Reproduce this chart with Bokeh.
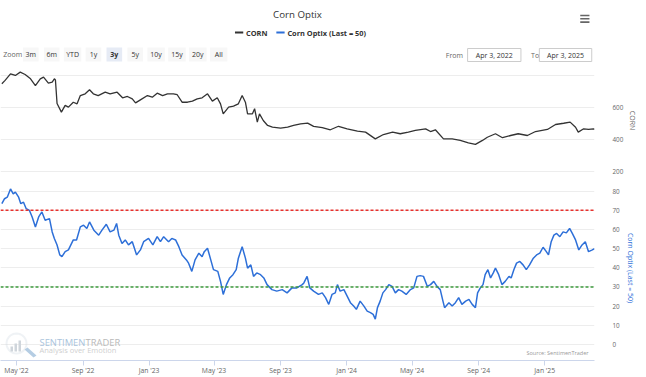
import math
import pandas as pd
from bokeh.plotting import figure
from bokeh.layouts import column
from bokeh.models import (Range1d, ColumnDataSource, FixedTicker, DatetimeTickFormatter,
                          Span, Label, PolyAnnotation, BoxAnnotation)
from bokeh.core.properties import value
from bokeh.embed import file_html
from bokeh.resources import INLINE

# ---------------- data ----------------
TITLE = "Corn Optix"
CORN_NAME = "CORN"
OPTIX_NAME = "Corn Optix (Last = 50)"

CORN_DATES = [
    "2022-04-04", "2022-04-10", "2022-04-20", "2022-04-29", "2022-05-08", "2022-05-17", "2022-05-27",
    "2022-06-05", "2022-06-14", "2022-06-20", "2022-06-29", "2022-07-06", "2022-07-10", "2022-07-12",
    "2022-07-15", "2022-07-23", "2022-07-30", "2022-08-05", "2022-08-14", "2022-08-21", "2022-08-27",
    "2022-09-05", "2022-09-13", "2022-09-20", "2022-09-29", "2022-10-12", "2022-10-21", "2022-11-03",
    "2022-11-13", "2022-11-22", "2022-12-01", "2022-12-07", "2022-12-16", "2022-12-29", "2023-01-07",
    "2023-01-16", "2023-01-26", "2023-02-04", "2023-02-15", "2023-02-22", "2023-03-03", "2023-03-13",
    "2023-03-22", "2023-03-31", "2023-04-09", "2023-04-19", "2023-04-28", "2023-05-07", "2023-05-13",
    "2023-05-18", "2023-05-28", "2023-06-06", "2023-06-15", "2023-06-22", "2023-06-28", "2023-07-02",
    "2023-07-11", "2023-07-15", "2023-07-20", "2023-07-24", "2023-07-31", "2023-08-08", "2023-08-17",
    "2023-09-01", "2023-09-14", "2023-09-25", "2023-10-08", "2023-10-21", "2023-11-01", "2023-11-17",
    "2023-12-02", "2023-12-17", "2024-01-02", "2024-01-21", "2024-02-05", "2024-02-23", "2024-03-09",
    "2024-03-26", "2024-04-09", "2024-04-24", "2024-05-07", "2024-05-26", "2024-06-04", "2024-06-13",
    "2024-06-28", "2024-07-14", "2024-07-29", "2024-08-13", "2024-08-26", "2024-09-08", "2024-09-17",
    "2024-10-02", "2024-10-15", "2024-10-30", "2024-11-13", "2024-11-30", "2024-12-15", "2025-01-06",
    "2025-01-21", "2025-02-05", "2025-02-17", "2025-02-27", "2025-03-04", "2025-03-14", "2025-03-23",
    "2025-04-01", "2025-04-03",
]
CORN_VALUES = [
    748, 769, 810, 800, 821, 806, 779,
    737, 779, 790, 752, 758, 779, 772,
    624, 570, 612, 601, 632, 622, 674,
    685, 710, 685, 674, 695, 685, 695,
    660, 668, 653, 628, 647, 674, 664,
    689, 674, 685, 685, 679, 632, 632,
    639, 653, 660, 685, 639, 660, 622,
    559, 601, 607, 622, 674, 632, 559,
    559, 591, 507, 559, 517, 486, 475,
    469, 475, 486, 496, 501, 480, 472,
    459, 481, 465, 450, 444, 402, 429,
    444, 434, 444, 455, 465, 448, 459,
    402, 402, 392, 377, 367, 392, 412,
    434, 409, 423, 434, 423, 448, 461,
    492, 500, 507, 475, 444, 465, 461,
    465, 462,
]

OPTIX_DATES = [
    "2022-04-04", "2022-04-09", "2022-04-14", "2022-04-20", "2022-04-25", "2022-04-29", "2022-05-05",
    "2022-05-09", "2022-05-14", "2022-05-19", "2022-05-25", "2022-05-30", "2022-06-05", "2022-06-11",
    "2022-06-17", "2022-06-23", "2022-07-01", "2022-07-06", "2022-07-10", "2022-07-15", "2022-07-20",
    "2022-07-24", "2022-07-30", "2022-08-05", "2022-08-14", "2022-08-20", "2022-08-27", "2022-09-02",
    "2022-09-08", "2022-09-13", "2022-09-21", "2022-09-30", "2022-10-06", "2022-10-14", "2022-10-21",
    "2022-10-28", "2022-11-02", "2022-11-06", "2022-11-12", "2022-11-18", "2022-11-24", "2022-12-01",
    "2022-12-09", "2022-12-16", "2022-12-22", "2022-12-31", "2023-01-08", "2023-01-16", "2023-01-22",
    "2023-01-28", "2023-02-06", "2023-02-12", "2023-02-19", "2023-02-25", "2023-03-03", "2023-03-11",
    "2023-03-15", "2023-03-21", "2023-03-27", "2023-04-03", "2023-04-09", "2023-04-13", "2023-04-19",
    "2023-04-25", "2023-04-30", "2023-05-08", "2023-05-13", "2023-05-18", "2023-05-24", "2023-05-30",
    "2023-06-05", "2023-06-11", "2023-06-15", "2023-06-22", "2023-06-28", "2023-07-02", "2023-07-08",
    "2023-07-13", "2023-07-19", "2023-07-26", "2023-08-01", "2023-08-07", "2023-08-16", "2023-08-25",
    "2023-09-04", "2023-09-13", "2023-09-22", "2023-10-01", "2023-10-11", "2023-10-14", "2023-10-20",
    "2023-10-25", "2023-11-01", "2023-11-10", "2023-11-17", "2023-11-23", "2023-11-29", "2023-12-05",
    "2023-12-11", "2023-12-15", "2023-12-20", "2023-12-27", "2024-01-02", "2024-01-08", "2024-01-14",
    "2024-01-19", "2024-01-26", "2024-02-02", "2024-02-08", "2024-02-14", "2024-02-19", "2024-02-23",
    "2024-02-27", "2024-03-03", "2024-03-08", "2024-03-13", "2024-03-19", "2024-03-25", "2024-03-31",
    "2024-04-06", "2024-04-12", "2024-04-20", "2024-04-28", "2024-05-04", "2024-05-10", "2024-05-16",
    "2024-05-22", "2024-05-29", "2024-06-04", "2024-06-10", "2024-06-16", "2024-06-22", "2024-06-27",
    "2024-06-30", "2024-07-08", "2024-07-14", "2024-07-20", "2024-07-26", "2024-08-01", "2024-08-08",
    "2024-08-14", "2024-08-20", "2024-08-26", "2024-08-30", "2024-09-04", "2024-09-09", "2024-09-13",
    "2024-09-18", "2024-09-23", "2024-09-28", "2024-10-02", "2024-10-08", "2024-10-14", "2024-10-20",
    "2024-10-27", "2024-10-31", "2024-11-05", "2024-11-10", "2024-11-16", "2024-11-22", "2024-11-28",
    "2024-12-04", "2024-12-11", "2024-12-17", "2024-12-23", "2024-12-29", "2025-01-04", "2025-01-08",
    "2025-01-13", "2025-01-18", "2025-01-23", "2025-01-29", "2025-02-04", "2025-02-10", "2025-02-16",
    "2025-02-21", "2025-02-27", "2025-03-05", "2025-03-11", "2025-03-17", "2025-03-23", "2025-03-30",
    "2025-04-03",
]
OPTIX_VALUES = [
    73.4, 76.0, 76.8, 81.1, 78.5, 79.4, 76.8,
    73.4, 74.2, 70.8, 69.9, 66.5, 61.3, 66.5,
    69.1, 64.8, 65.6, 58.7, 55.3, 51.9, 46.7,
    45.8, 48.4, 49.3, 54.5, 54.5, 61.3, 62.2,
    60.5, 63.9, 59.6, 57.0, 59.6, 62.7, 58.7,
    59.6, 63.1, 57.0, 52.7, 54.5, 51.9, 53.6,
    46.7, 49.3, 53.6, 55.3, 51.9, 56.2, 53.6,
    56.2, 53.6, 55.3, 54.5, 51.0, 46.7, 44.1,
    42.4, 38.1, 44.1, 47.6, 45.8, 48.4, 50.2,
    44.1, 39.0, 38.1, 32.9, 26.1, 31.2, 34.7,
    36.4, 39.0, 45.0, 51.0, 45.0, 39.8, 41.5,
    35.5, 37.3, 36.4, 34.7, 31.2, 28.6, 27.8,
    28.6, 26.9, 29.5, 29.5, 31.2, 32.1, 35.5,
    29.5, 27.8, 26.1, 26.9, 24.4, 20.9, 26.1,
    26.9, 31.2, 27.8, 28.6, 25.2, 21.8, 20.0,
    18.3, 22.6, 20.0, 17.4, 16.6, 15.7, 13.2,
    19.2, 22.6, 26.9, 28.6, 31.2, 30.3, 26.9,
    28.6, 27.8, 26.1, 28.6, 29.5, 35.5, 35.9,
    35.5, 30.3, 31.2, 32.9, 30.3, 28.6, 22.6,
    19.2, 21.8, 20.0, 21.8, 24.4, 20.9, 22.6,
    23.5, 20.9, 19.2, 26.9, 29.5, 31.2, 36.4,
    39.0, 34.7, 37.3, 39.8, 36.4, 31.2, 32.9,
    35.5, 34.7, 39.0, 42.4, 43.3, 41.5, 39.0,
    41.5, 45.0, 46.7, 47.6, 50.7, 48.4, 46.7,
    53.6, 57.0, 57.9, 56.2, 58.7, 58.2, 60.5,
    57.9, 54.5, 49.3, 51.9, 53.6, 48.4, 49.3,
    50.0,
]

UPPER_BAND = 70
LOWER_BAND = 30
CORN_TICKS = [200, 400, 600]
CORN_GRID = [200, 400, 600, 800]
OPTIX_TICKS = [0, 10, 20, 30, 40, 50, 60, 70, 80]
X_TICKS = ["2022-05-01", "2022-09-01", "2023-01-01", "2023-05-01", "2023-09-01",
           "2024-01-01", "2024-05-01", "2024-09-01", "2025-01-01"]
X_START = "2022-04-01 12:00"
X_END = "2025-04-03"
ZOOM_BUTTONS = ["3m", "6m", "YTD", "1y", "3y", "5y", "10y", "15y", "20y", "All"]
SELECTED_BUTTON = "3y"
RANGE_FROM = "Apr 3, 2022"
RANGE_TO = "Apr 3, 2025"
SOURCE_NOTE = "Source: SentimenTrader"

# ---------------- style ----------------
FONT = "Open Sans"
W = 646
RIGHT = 52
CORN_COLOR = "#333333"
OPTIX_COLOR = "#2d6fd8"
GRID_COLOR = "#ededed"
AXIS_COLOR = "#ccd6eb"
LABEL_COLOR = "#666666"

# ---------------- header ----------------
hdr = figure(width=W, height=65, x_range=Range1d(0, W), y_range=Range1d(65, 0),
             x_axis_location=None, y_axis_location=None, toolbar_location=None,
             output_backend="svg", min_border=0, outline_line_color=None)
hdr.grid.visible = False

hdr.text(x=[W / 2], y=[14], text=[TITLE], text_align="center", text_baseline="middle",
         text_font=value(FONT), text_font_size="9.7px", text_color="#333333")

hdr.segment(x0=[255, 300], y0=[32, 32], x1=[264, 309], y1=[32, 32],
            line_color=[CORN_COLOR, OPTIX_COLOR], line_width=2)
hdr.text(x=[267, 312], y=[32, 32], text=[CORN_NAME, OPTIX_NAME], text_align="left",
         text_baseline="middle", text_font=value(FONT), text_font_size="7.4px",
         text_font_style="bold", text_color="#333333")

hdr.text(x=[3], y=[54], text=["Zoom"], text_align="left", text_baseline="middle",
         text_font=value(FONT), text_font_size="7px", text_color=LABEL_COLOR)
bx = [33 + i * 22.7 for i in range(len(ZOOM_BUTTONS))]
bw = [17 if len(b) < 3 else 19 for b in ZOOM_BUTTONS]
bfill = ["#e6ebf5" if b == SELECTED_BUTTON else "#f7f7f7" for b in ZOOM_BUTTONS]
bstyle = ["bold" if b == SELECTED_BUTTON else "normal" for b in ZOOM_BUTTONS]
hdr.rect(x=bx, y=[54] * len(bx), width=bw, height=14, fill_color=bfill, line_color=None)
hdr.text(x=bx, y=[54] * len(bx), text=ZOOM_BUTTONS, text_align="center", text_baseline="middle",
         text_font=value(FONT), text_font_size="7px", text_font_style=bstyle, text_color="#333333")

hdr.text(x=[503, 577], y=[54.5, 54.5], text=["From", "To"], text_align=["right", "left"],
         text_baseline="middle", text_font=value(FONT), text_font_size="7px", text_color=LABEL_COLOR)
hdr.rect(x=[537, 614.5], y=[54.5, 54.5], width=[58, 57], height=13, fill_color="white",
         line_color="#cccccc", line_width=1)
hdr.text(x=[537, 614.5], y=[54.5, 54.5], text=[RANGE_FROM, RANGE_TO], text_align="center",
         text_baseline="middle", text_font=value(FONT), text_font_size="7px", text_color="#333333")

hdr.segment(x0=[630.5] * 3, x1=[640.5] * 3, y0=[15, 18.3, 21.6], y1=[15, 18.3, 21.6],
            line_color=LABEL_COLOR, line_width=1.6)

# ---------------- shared x ----------------
xr = Range1d(start=pd.Timestamp(X_START), end=pd.Timestamp(X_END))

corn_src = ColumnDataSource(dict(x=pd.to_datetime(CORN_DATES), y=CORN_VALUES))
optix_src = ColumnDataSource(dict(x=pd.to_datetime(OPTIX_DATES), y=OPTIX_VALUES))

# ---------------- top pane (CORN) ----------------
CORN_PX = 0.1592          # pixels per CORN unit
TOP_H = 110
corn_lo = 200 - 4.5 / CORN_PX
top = figure(width=W, height=TOP_H, x_range=xr,
             y_range=Range1d(corn_lo, corn_lo + TOP_H / CORN_PX),
             x_axis_type="datetime", x_axis_location=None, y_axis_location="right",
             toolbar_location=None, output_backend="svg",
             min_border_left=0, min_border_right=RIGHT, min_border_top=0, min_border_bottom=0,
             outline_line_color=None)
top.xgrid.visible = False
top.ygrid.ticker = FixedTicker(ticks=CORN_GRID)
top.ygrid.grid_line_color = GRID_COLOR
ya = top.yaxis[0]
ya.ticker = FixedTicker(ticks=CORN_TICKS)
ya.axis_line_color = None
ya.major_tick_line_color = None
ya.minor_tick_line_color = None
ya.major_label_standoff = 12
ya.major_label_text_font = FONT
ya.major_label_text_font_size = "6.3px"
ya.major_label_text_color = LABEL_COLOR
ya.major_label_text_baseline = "bottom"
ya.axis_label = CORN_NAME
ya.axis_label_text_font = FONT
ya.axis_label_text_font_size = "7px"
ya.axis_label_text_font_style = "normal"
ya.axis_label_text_color = LABEL_COLOR
ya.axis_label_standoff = 2
top.line("x", "y", source=corn_src, line_color=CORN_COLOR, line_width=1.3)

# ---------------- bottom pane (Optix) ----------------
BOT_H = 377 - 65 - TOP_H
OPTIX_PX = 1.935
bot = figure(width=W, height=BOT_H, x_range=xr,
             y_range=Range1d(-16.2 / OPTIX_PX, 80 + 15.7 / OPTIX_PX),
             x_axis_type="datetime", y_axis_location="right",
             toolbar_location=None, output_backend="svg",
             min_border_left=0, min_border_right=RIGHT, min_border_top=0, min_border_bottom=15,
             outline_line_color=None)
bot.xgrid.visible = False
bot.ygrid.ticker = FixedTicker(ticks=OPTIX_TICKS)
bot.ygrid.grid_line_color = GRID_COLOR

yb = bot.yaxis[0]
yb.ticker = FixedTicker(ticks=OPTIX_TICKS)
yb.axis_line_color = None
yb.major_tick_line_color = None
yb.minor_tick_line_color = None
yb.major_label_standoff = 12
yb.major_label_text_font = FONT
yb.major_label_text_font_size = "6.3px"
yb.major_label_text_color = LABEL_COLOR
yb.major_label_text_baseline = "bottom"
yb.axis_label = OPTIX_NAME
yb.axis_label_text_font = FONT
yb.axis_label_text_font_size = "7px"
yb.axis_label_text_font_style = "normal"
yb.axis_label_text_color = OPTIX_COLOR
yb.axis_label_standoff = 3

xa = bot.xaxis[0]
xa.ticker = FixedTicker(ticks=[pd.Timestamp(t).value / 1e6 for t in X_TICKS])
xa.formatter = DatetimeTickFormatter(months="%b '%y", days="%b '%y", years="%b '%y")
xa.axis_line_color = AXIS_COLOR
xa.major_tick_line_color = AXIS_COLOR
xa.minor_tick_line_color = None
xa.major_tick_in = 0
xa.major_tick_out = 5
xa.major_label_standoff = 0
xa.major_label_text_font = FONT
xa.major_label_text_font_size = "6.8px"
xa.major_label_text_color = LABEL_COLOR

bot.add_layout(Span(location=UPPER_BAND, dimension="width", line_color="#e8322e",
                    line_dash="3 2", line_width=1.4))
bot.add_layout(Span(location=LOWER_BAND, dimension="width", line_color="#3d9a3d",
                    line_dash="3 2", line_width=1.4))
bot.line("x", "y", source=optix_src, line_color=OPTIX_COLOR, line_width=1.5)

# watermark (screen units, frame relative)
ring_x = [16 + 10 * math.cos(2 * math.pi * k / 28) for k in range(28)]
ring_y = [17 + 10 * math.sin(2 * math.pi * k / 28) for k in range(28)]
bot.add_layout(PolyAnnotation(xs=ring_x, ys=ring_y, xs_units="screen", ys_units="screen",
                              fill_alpha=0, line_color="#c9d3dd", line_width=2))
for (l, r, h) in [(10, 12.5, 5), (14, 16.5, 8), (18, 20.5, 11)]:
    bot.add_layout(BoxAnnotation(left=l, right=r, bottom=9, top=9 + h, left_units="screen",
                                 right_units="screen", bottom_units="screen", top_units="screen",
                                 fill_color="#cfd5db", fill_alpha=1, line_color=None))
bot.add_layout(PolyAnnotation(xs=[24, 27, 36, 33], ys=[11, 13, 5, 3], xs_units="screen",
                              ys_units="screen", fill_color="#b5cde3", fill_alpha=1, line_color=None))
bot.add_layout(Label(x=39, y=18.5, x_units="screen", y_units="screen", text="SENTIMEN",
                     text_font=FONT, text_font_size="9.4px", text_color="#a9c3dc",
                     text_baseline="middle"))
bot.add_layout(Label(x=85, y=18.5, x_units="screen", y_units="screen", text="TRADER",
                     text_font=FONT, text_font_size="9.4px", text_color="#b9b9b9",
                     text_baseline="middle"))
bot.add_layout(Label(x=39, y=11, x_units="screen", y_units="screen", text="Analysis over Emotion",
                     text_font=FONT, text_font_size="7.5px", text_color="#cfcfcf",
                     text_baseline="middle"))
bot.add_layout(Label(x=588, y=7.7, x_units="screen", y_units="screen", text=SOURCE_NOTE,
                     text_font=FONT, text_font_size="5.5px", text_color="#999999",
                     text_baseline="middle", text_align="right"))

layout = column(hdr, top, bot, spacing=0)
open("out.html", "w").write(file_html(layout, INLINE))
